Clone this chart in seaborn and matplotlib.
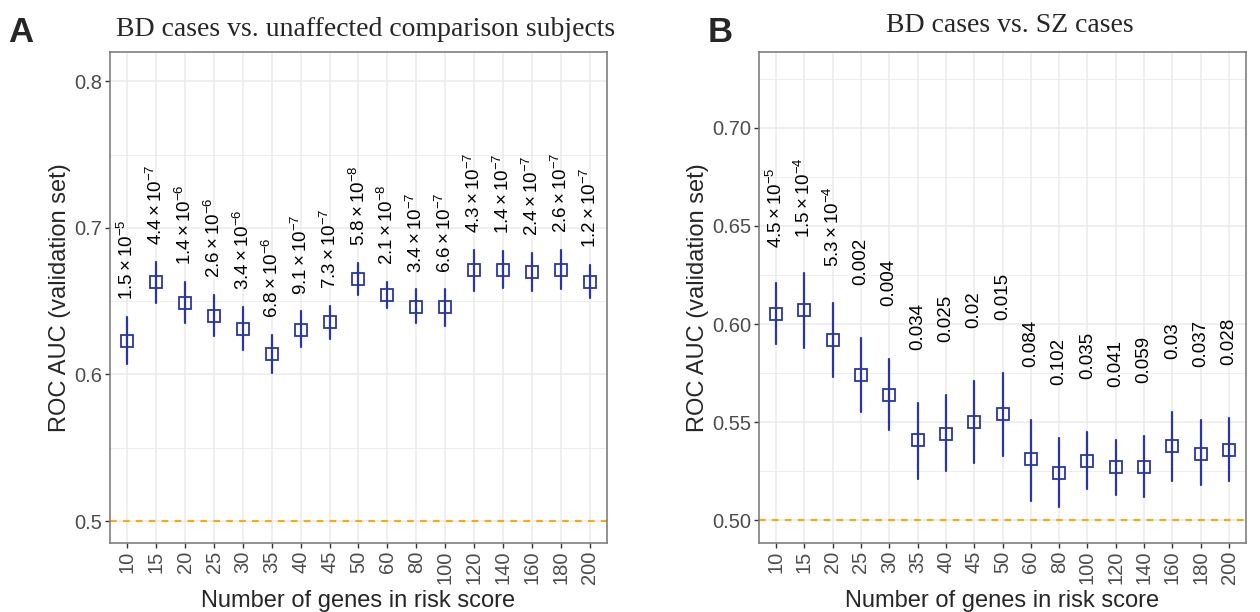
import numpy as np
import pandas as pd
import matplotlib
matplotlib.use("Agg")
import matplotlib.pyplot as plt
import seaborn as sns

# ---------------- data ----------------
genes = ["10", "15", "20", "25", "30", "35", "40", "45", "50",
         "60", "80", "100", "120", "140", "160", "180", "200"]

auc_a = [0.623, 0.663, 0.649, 0.640, 0.631, 0.614, 0.630, 0.636, 0.665,
         0.654, 0.646, 0.646, 0.671, 0.671, 0.670, 0.671, 0.663]
lo_a = [0.607, 0.649, 0.635, 0.626, 0.617, 0.601, 0.619, 0.624, 0.654,
        0.645, 0.635, 0.633, 0.657, 0.659, 0.657, 0.658, 0.652]
hi_a = [0.639, 0.677, 0.663, 0.654, 0.646, 0.627, 0.643, 0.647, 0.676,
        0.663, 0.658, 0.658, 0.685, 0.684, 0.683, 0.685, 0.675]
p_a = ["1.5e-5", "4.4e-7", "1.4e-6", "2.6e-6", "3.4e-6", "6.8e-6", "9.1e-7",
       "7.3e-7", "5.8e-8", "2.1e-8", "3.4e-7", "6.6e-7", "4.3e-7", "1.4e-7",
       "2.4e-7", "2.6e-7", "1.2e-7"]

auc_b = [0.605, 0.607, 0.592, 0.574, 0.564, 0.541, 0.544, 0.550, 0.554,
         0.531, 0.524, 0.530, 0.527, 0.527, 0.538, 0.534, 0.536]
lo_b = [0.590, 0.588, 0.573, 0.555, 0.546, 0.521, 0.525, 0.529, 0.533,
        0.510, 0.507, 0.516, 0.513, 0.512, 0.520, 0.518, 0.520]
hi_b = [0.621, 0.626, 0.611, 0.593, 0.582, 0.560, 0.564, 0.571, 0.575,
        0.551, 0.542, 0.545, 0.541, 0.543, 0.555, 0.551, 0.552]
p_b = ["4.5e-5", "1.5e-4", "5.3e-4", "0.002", "0.004", "0.034", "0.025",
       "0.02", "0.015", "0.084", "0.102", "0.035", "0.041", "0.059", "0.03",
       "0.037", "0.028"]

titles = ["BD cases vs. unaffected comparison subjects", "BD cases vs. SZ cases"]
panel_letters = ["A", "B"]

# ---------------- style ----------------
sns.set_theme(style="whitegrid")
plt.rcParams["font.family"] = ["Liberation Sans", "DejaVu Sans"]
plt.rcParams["mathtext.fontset"] = "custom"
plt.rcParams["mathtext.rm"] = "Liberation Sans"
plt.rcParams["mathtext.it"] = "Liberation Sans:italic"
plt.rcParams["mathtext.bf"] = "Liberation Sans:bold"

BLUE = "#2A36A8"
GRID = "#EBEBEB"
TICKC = "#4D4D4D"


def fmt_p(s):
    if "e" in s:
        m, e = s.split("e")
        return r"$%s\times10^{%d}$" % (m, int(e))
    return s


fig = plt.figure(figsize=(12.6, 6.12), dpi=100)
W, H = 1260, 612
boxes = [(110, 607), (759, 1246)]
top_px, bot_px = 52, 543

panels = [
    dict(auc=auc_a, lo=lo_a, hi=hi_a, p=p_a, ylim=(0.485, 0.820),
         major=[0.5, 0.6, 0.7, 0.8], minor=[0.55, 0.65, 0.75],
         fmtstr="%.1f", off_math=0.0115, off_plain=0.0115),
    dict(auc=auc_b, lo=lo_b, hi=hi_b, p=p_b, ylim=(0.4884, 0.7387),
         major=[0.50, 0.55, 0.60, 0.65, 0.70], minor=[0.525, 0.575, 0.625, 0.675, 0.725],
         fmtstr="%.2f", off_math=0.018, off_plain=0.027),
]

title_x = [366, 1010]
title_y = [29, 25]
letter_x = [8, 708]

for k, P in enumerate(panels):
    l, r = boxes[k]
    ax = fig.add_axes([l / W, 1 - bot_px / H, (r - l) / W, (bot_px - top_px) / H])
    df = pd.DataFrame({
        "genes": np.repeat(genes, 3),
        "auc": np.ravel(np.column_stack([P["lo"], P["auc"], P["hi"]])),
    })
    ax.axhline(0.5, color="#FFAA00", ls=(0, (3.2, 3.0)), lw=1.5, zorder=1)
    sns.pointplot(data=df, x="genes", y="auc", order=genes,
                  estimator="median",
                  errorbar=lambda v: (np.min(v), np.max(v)),
                  markers="s", linestyles="none", color=BLUE,
                  markersize=8.5, markerfacecolor="none", markeredgewidth=1.3,
                  err_kws={"linewidth": 1.6, "color": BLUE},
                  ax=ax, zorder=3)
    for i, (h, s) in enumerate(zip(P["hi"], P["p"])):
        off = P["off_math"] if "e" in s else P["off_plain"]
        ax.text(i, h + off, fmt_p(s), rotation=90, ha="center", va="bottom",
                fontsize=13.5, color="black")
    ax.set_xlim(-0.6, len(genes) - 0.4)
    ax.set_ylim(*P["ylim"])
    ax.set_yticks(P["major"])
    ax.set_yticklabels([P["fmtstr"] % v for v in P["major"]])
    ax.set_yticks(P["minor"], minor=True)
    ax.set_facecolor("white")
    ax.grid(True, which="major", color=GRID, lw=1.1)
    ax.yaxis.grid(True, which="minor", color=GRID, lw=0.6)
    ax.xaxis.grid(True, which="major", color=GRID, lw=1.1)
    ax.set_axisbelow(True)
    for sp in ax.spines.values():
        sp.set_color("#7F7F7F")
        sp.set_linewidth(1.2)
    ax.tick_params(axis="both", which="major", length=3.5, width=1.0,
                   color="#333333", labelcolor=TICKC, labelsize=14.5, pad=2,
                   left=True, bottom=True)
    ax.tick_params(axis="y", which="minor", length=0, left=False)
    ax.tick_params(axis="x", labelrotation=90)
    ax.set_xlabel("Number of genes in risk score", fontsize=17, labelpad=4)
    ax.set_ylabel("ROC AUC (validation set)", fontsize=17, labelpad=2.5)
    fig.text(title_x[k] / W, 1 - title_y[k] / H, titles[k], ha="center", va="center",
             fontsize=20, family="Liberation Serif")
    fig.text(letter_x[k] / W, 1 - 32 / H, panel_letters[k], ha="left", va="center",
             fontsize=25, fontweight="bold")

fig.savefig("out.png", dpi=100)
